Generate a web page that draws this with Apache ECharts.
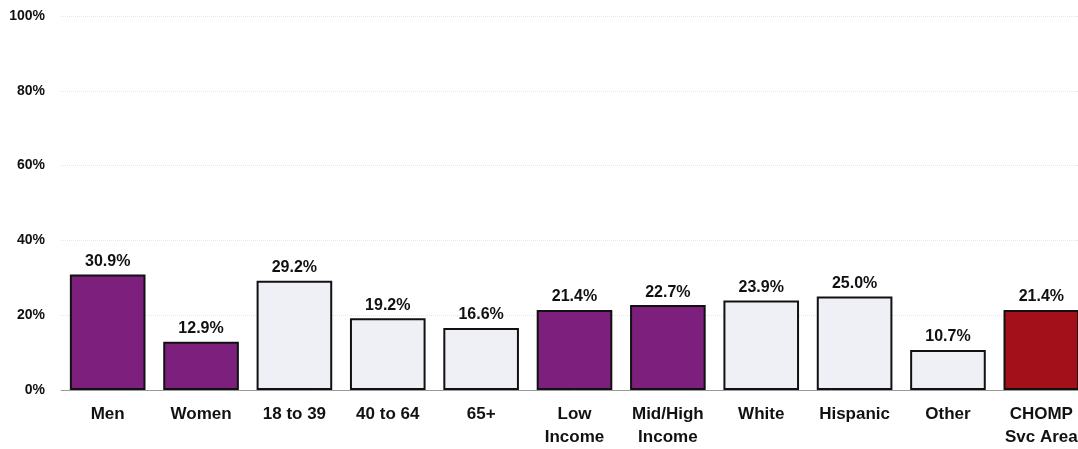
<!DOCTYPE html>
<html>
<head>
<meta charset="utf-8">
<script src="https://cdn.jsdelivr.net/npm/echarts@6/dist/echarts.min.js"></script>
<style>
html,body{margin:0;padding:0;background:#fff;}
#wrap{position:relative;width:1078px;height:449px;overflow:hidden;}
#c{position:absolute;left:0;top:0;width:1092px;height:449px;}
</style>
</head>
<body>
<div id="wrap"><div id="c"></div></div>
<script>
const categories = ["Men", "Women", "18 to 39", "40 to 64", "65+", "Low\nIncome", "Mid/High\nIncome", "White", "Hispanic", "Other", "CHOMP\nSvc Area"];
const values = [30.9, 12.9, 29.2, 19.2, 16.6, 21.4, 22.7, 23.9, 25.0, 10.7, 21.4];
const groups = ["sex", "sex", "age", "age", "age", "income", "income", "race", "race", "race", "total"];
const yTicks = [0, 20, 40, 60, 80, 100];

const groupColors = { sex: "#7c1f7d", income: "#7c1f7d", age: "#eef0f6", race: "#eef0f6", total: "#a3101a" };
const font = "'Liberation Sans', Arial, sans-serif";

const chart = echarts.init(document.getElementById('c'));
chart.setOption({
  animation: false,
  grid: { left: 61, top: 16, right: 4, bottom: 58, containLabel: false },
  xAxis: {
    type: 'category',
    data: categories,
    axisTick: { show: false },
    axisLine: { lineStyle: { color: '#9a9a9a', width: 1 } },
    axisLabel: { color: '#111', fontWeight: 'bold', fontSize: 17, fontFamily: font, margin: 13, lineHeight: 23, interval: 0 }
  },
  yAxis: {
    type: 'value',
    min: yTicks[0], max: yTicks[yTicks.length - 1], interval: 20,
    axisLine: { show: false },
    axisTick: { show: false },
    axisLabel: { formatter: v => v + '%', color: '#111', fontWeight: 'bold', fontSize: 14, fontFamily: font, margin: 16 },
    splitLine: { lineStyle: { color: '#e4e6ee', type: 'dotted', width: 1 } }
  },
  series: [{
    type: 'bar',
    barCategoryGap: '19%',
    data: values.map((v, i) => ({
      value: v,
      itemStyle: { color: groupColors[groups[i]], borderColor: '#111', borderWidth: 2 }
    })),
    label: {
      show: true, position: 'top', distance: 5,
      formatter: p => p.value.toFixed(1) + '%',
      color: '#111', fontWeight: 'bold', fontSize: 16, fontFamily: font
    }
  }]
});
</script>
</body>
</html>
